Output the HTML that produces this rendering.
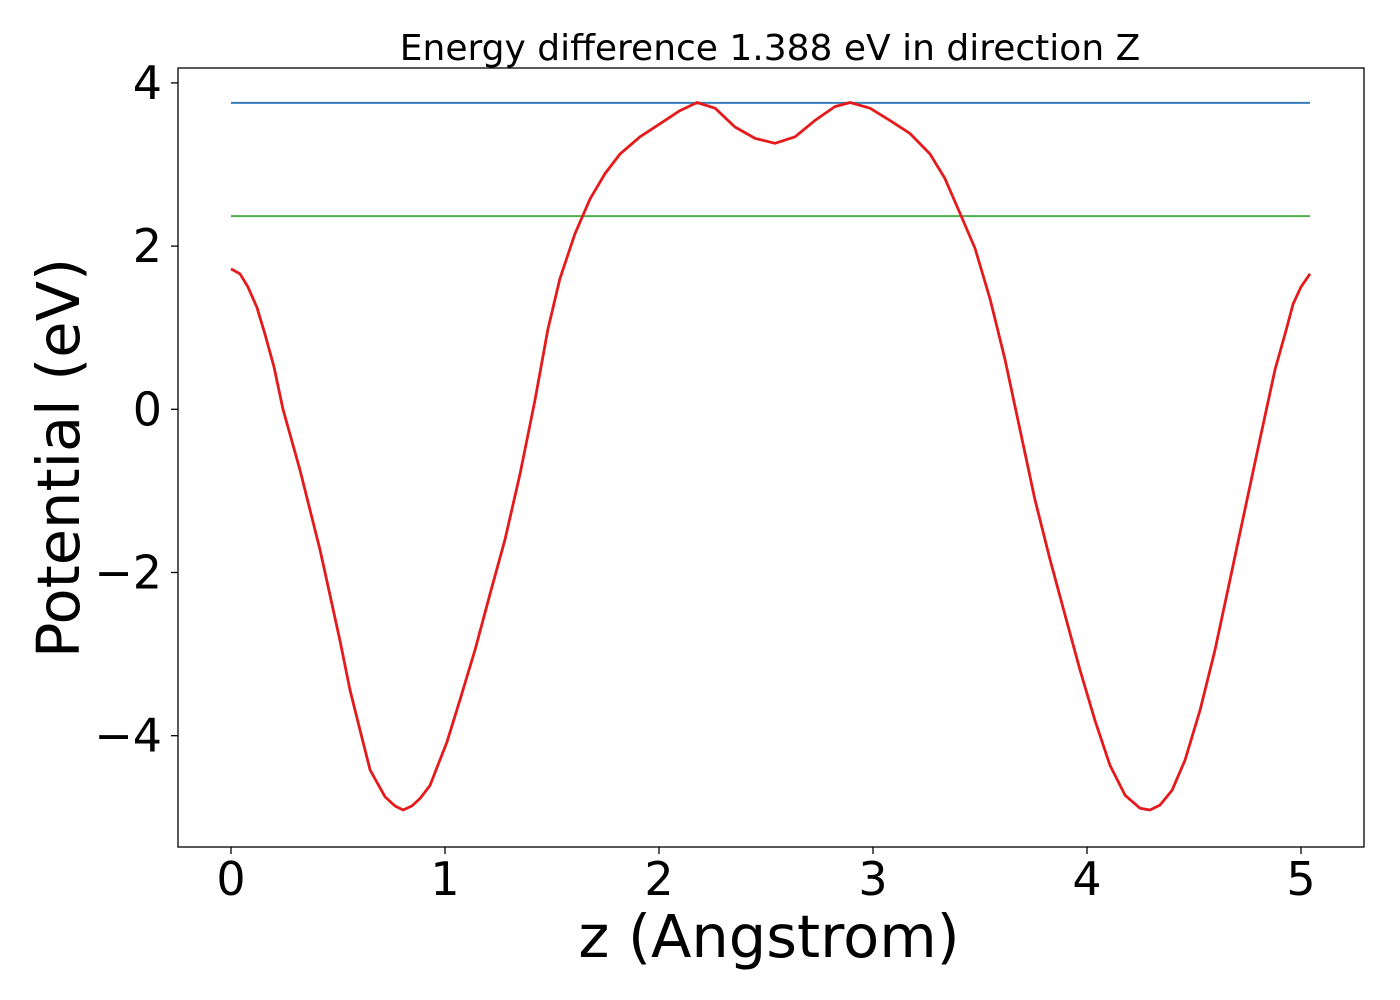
<!DOCTYPE html>
<html><head><meta charset="utf-8"><style>
html,body{margin:0;padding:0;background:#fff;width:1400px;height:1000px;overflow:hidden}
svg text{font-family:"DejaVu Sans","Liberation Sans",sans-serif;fill:#000}
</style></head><body>
<svg id="chart" width="1400" height="1000"></svg>
<script>
const xValues=[0,0.042,0.079,0.121,0.159,0.201,0.243,0.322,0.416,0.509,0.556,0.603,0.650,0.720,0.766,0.804,0.846,0.883,0.930,0.967,1.009,1.070,1.140,1.210,1.280,1.350,1.421,1.481,1.537,1.607,1.678,1.748,1.818,1.911,2.005,2.098,2.178,2.262,2.355,2.449,2.542,2.636,2.729,2.822,2.893,2.986,3.079,3.173,3.266,3.336,3.407,3.477,3.547,3.617,3.687,3.757,3.827,3.897,3.967,4.037,4.107,4.178,4.248,4.294,4.341,4.397,4.458,4.528,4.598,4.668,4.738,4.808,4.879,4.925,4.963,5.0,5.042];
const potential=[1.72,1.66,1.50,1.25,0.92,0.52,0,-0.74,-1.72,-2.83,-3.44,-3.93,-4.42,-4.75,-4.86,-4.91,-4.86,-4.77,-4.61,-4.36,-4.08,-3.56,-2.95,-2.27,-1.60,-0.80,0.12,0.98,1.60,2.15,2.58,2.89,3.13,3.34,3.50,3.66,3.76,3.69,3.46,3.32,3.26,3.34,3.54,3.71,3.76,3.69,3.54,3.38,3.13,2.83,2.40,1.97,1.35,0.61,-0.25,-1.11,-1.84,-2.52,-3.19,-3.81,-4.36,-4.73,-4.89,-4.91,-4.85,-4.67,-4.30,-3.69,-2.95,-2.09,-1.23,-0.37,0.49,0.92,1.29,1.50,1.66];
const maxLevel=[3.755];
const refLevel=[2.367];
const xTicks=[0,1,2,3,4,5];
const yTicks=[4,2,0,-2,-4];
const NS="http://www.w3.org/2000/svg";
const svg=document.getElementById('chart');
const L=178,R=1364,T=68,B=847;
function sx(v){return 231+v*214;}
function sy(v){return 409.3-v*81.6;}
function mk(tag,attrs,parent){const e=document.createElementNS(NS,tag);for(const k in attrs)e.setAttribute(k,attrs[k]);(parent||svg).appendChild(e);return e;}
xTicks.forEach(t=>{
  const l=mk('line',{x1:sx(t),x2:sx(t),y1:B,y2:B+7,stroke:'#000','stroke-width':1.3});
  
  
  const tx=mk('text',{x:sx(t),y:B+48,'text-anchor':'middle','font-size':46});
  tx.textContent=t;
  
  
});
yTicks.forEach(t=>{
  const l=mk('line',{x1:L-7,x2:L,y1:sy(t),y2:sy(t),stroke:'#000','stroke-width':1.3});
  
  
  const tx=mk('text',{x:L-16,y:sy(t)+16,'text-anchor':'end','font-size':46});
  tx.textContent=t<0?'\u2212'+Math.abs(t):String(t);
  
  
});
const bl=mk('line',{x1:sx(0),x2:sx(xValues[xValues.length-1]),y1:sy(maxLevel[0]),y2:sy(maxLevel[0]),stroke:'#377eb8','stroke-width':2});


const gl=mk('line',{x1:sx(0),x2:sx(xValues[xValues.length-1]),y1:sy(refLevel[0]),y2:sy(refLevel[0]),stroke:'#4daf4a','stroke-width':2});


const pts=xValues.map((x,i)=>sx(x).toFixed(1)+','+sy(potential[i]).toFixed(1)).join(' ');
const pl=mk('polyline',{points:pts,fill:'none',stroke:'#e41a1c','stroke-width':2.8,'stroke-linejoin':'round'});


const frame=mk('rect',{x:L,y:T,width:R-L,height:B-T,fill:'none',stroke:'#000','stroke-width':1.3});


const title=mk('text',{x:770,y:60,'text-anchor':'middle','font-size':36});
title.textContent='Energy difference 1.388 eV in direction Z';


const xl=mk('text',{x:769,y:957,'text-anchor':'middle','font-size':59});
xl.textContent='z (Angstrom)';


const yl=mk('text',{x:0,y:0,'text-anchor':'middle','font-size':59,transform:'translate(79,458) rotate(-90)'});
yl.textContent='Potential (eV)';


</script>
</body></html>
